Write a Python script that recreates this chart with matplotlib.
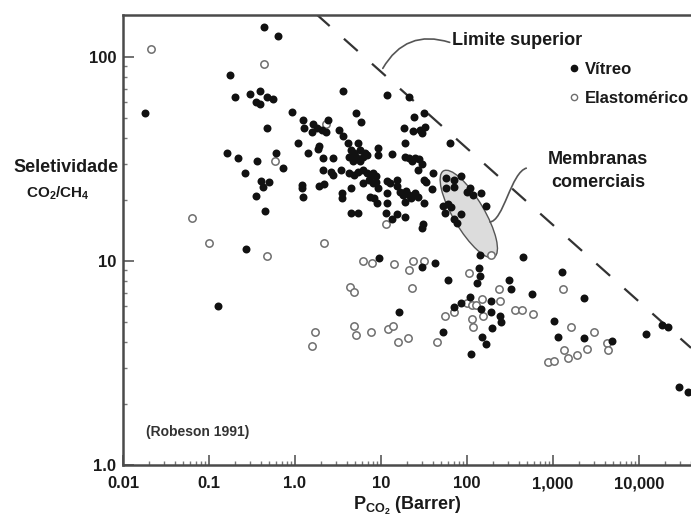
import numpy as np
import matplotlib
matplotlib.use("Agg")
import matplotlib.pyplot as plt
from matplotlib.patches import Ellipse, PathPatch
from matplotlib.path import Path
from matplotlib.lines import Line2D
from matplotlib.ticker import NullFormatter, LogLocator
from matplotlib.transforms import ScaledTranslation

plt.rcParams["font.family"] = ["Liberation Sans", "DejaVu Sans"]
plt.rcParams["mathtext.fontset"] = "custom"
plt.rcParams["mathtext.rm"] = "Liberation Sans"
plt.rcParams["mathtext.bf"] = "Liberation Sans:bold"

# Vitreous (glassy) polymers: permeability P_CO2 (Barrer) and CO2/CH4 selectivity
vitreo_p = [
    0.018, 0.44, 0.63, 0.175, 0.20, 0.30, 0.39, 0.35, 0.39, 0.47, 0.55, 0.47,
    0.16, 0.22, 0.36, 0.60, 0.72, 0.26, 0.40, 0.50, 0.43, 0.35, 0.45, 0.27, 0.127,
    3.6, 11.7, 0.92, 5.1, 5.8, 1.24, 1.27, 1.62, 1.80, 1.58, 2.06, 2.3, 2.4, 3.25,
    3.6, 1.08, 1.42, 1.85, 1.9, 4.1, 5.4, 4.5, 4.9, 5.7, 6.5, 6.9, 9.2, 9.2, 13.4,
    2.1, 2.75, 4.3, 4.7, 5.1, 5.7, 6.2, 2.1, 2.6, 2.75, 3.4, 4.3, 4.9, 5.4, 6.2,
    6.9, 7.6, 8.0, 8.8, 7.2, 8.0, 8.8, 11.7, 12.6, 15.4, 19, 21, 22.8, 24.9, 28,
    19, 18.5, 23.6, 28.5, 32.5, 24, 31.5, 21, 27, 31.5, 63, 29.9,
    30, 40, 39, 31.5, 31, 30, 57, 71, 71, 85, 57, 100, 108, 116, 145, 166, 53,
    60, 66, 55, 71, 76, 86, 141, 448, 42, 137, 141, 60, 308,
    1.2, 1.2, 1.9, 2.2, 1.24, 3.5, 3.5, 4.5, 7.5, 8.4, 9.1, 11.7, 11.7, 15.4,
    16.8, 18.2, 19.6, 21, 22.6, 19, 24.9, 27, 33, 4.5, 5.4, 11.4, 15.4, 13.4, 19,
    9.5, 30, 6.2, 9.2,
    108, 85, 71, 16.2, 52, 110, 132, 325, 1270, 2300, 570, 1030, 1130, 2300,
    4800, 12000, 18500, 21700, 29000, 37000, 145, 150, 190, 195, 245, 250, 165, 190,
]
vitreo_sel = [
    53, 140, 127, 82, 64, 66, 68, 60, 59, 64, 62, 45,
    34, 32, 31, 34, 28.6, 27, 24.7, 24.4, 23, 20.8, 17.6, 11.5, 6.0,
    68, 65, 54, 53, 48, 49, 45, 47, 45, 43, 44, 43, 49, 44,
    41, 38, 34, 35.4, 36.6, 38, 38, 35, 34, 35, 34, 33, 36, 33, 33.5,
    32, 32, 32.5, 31, 32.5, 31, 32.5, 28, 27.3, 26.5, 28, 27, 26.5, 27.3, 28,
    27, 26, 27, 26, 25, 24, 24.4, 24.7, 24, 25, 32.5, 32, 31, 32, 31.5,
    38, 45, 43.5, 44, 45.5, 51, 53, 64, 28, 25, 38, 42.4,
    30, 27, 22.5, 19.2, 15.2, 14.5, 25.5, 25, 23, 26, 22.9, 21.8, 22.8, 21, 21.5, 18.6, 18.6,
    19, 18.4, 17.2, 16, 15.4, 17, 10.7, 10.5, 9.8, 9.2, 8.4, 8.1, 8.1,
    23.6, 22.8, 23.3, 23.8, 20.6, 21.5, 20.4, 22.8, 20.6, 20.4, 19.2, 19.2, 21.5, 23.2,
    21.8, 21, 22, 21, 20.4, 19.4, 21.5, 20.6, 24.4, 17.2, 17.2, 17.2, 17, 16, 16.4,
    10.3, 9.3, 24, 22.8,
    6.7, 6.2, 5.95, 5.6, 4.5, 3.5, 7.8, 7.3, 8.8, 6.6, 6.9, 5.1, 4.24, 4.2,
    4.05, 4.4, 4.85, 4.75, 2.41, 2.28, 5.8, 4.24, 5.6, 4.7, 5.4, 5.05, 3.9, 6.4,
]

# Elastomeric (rubbery) polymers
elasto_p = [
    0.021, 0.44, 0.59, 0.063, 0.10, 0.47, 1.71, 1.58, 2.3, 11.4, 2.2, 6.2, 7.9,
    14, 23.5, 31.5, 21.4, 4.4, 4.8, 23, 190, 105, 100, 113, 128, 55, 71, 113, 116,
    4.8, 5.1, 7.6, 12.1, 13.9, 15.8, 20.5, 44.5, 234, 245, 1300, 360, 440, 590,
    1620, 870, 1030, 1360, 1500, 1920, 2500, 3000, 4300, 4400, 150, 152,
]
elasto_sel = [
    110, 92, 31, 16.3, 12.3, 10.6, 4.5, 3.83, 47, 15.2, 12.3, 10, 9.8,
    9.7, 10, 10, 9.0, 7.5, 7.05, 7.4, 10.7, 8.7, 6.2, 6.1, 6.1, 5.4, 5.6, 5.2, 4.75,
    4.8, 4.34, 4.5, 4.65, 4.8, 4.0, 4.2, 4.0, 7.3, 6.4, 7.3, 5.75, 5.75, 5.5,
    4.75, 3.2, 3.23, 3.66, 3.35, 3.45, 3.7, 4.5, 3.96, 3.66, 6.5, 5.4,
]

# Upper bound (Robeson 1991), read at the two edges of the plot
bound_p = [1.75, 40300]
bound_sel = [163, 3.75]

x_ticks = [0.01, 0.1, 1, 10, 100, 1000, 10000]
x_labels = ["0.01", "0.1", "1.0", "10", "100", "1,000", "10,000"]
y_ticks = [1, 10, 100]
y_labels = ["1.0", "10", "100"]

TXT = "#1a1a1a"
SPINE = "#4a4a4a"

fig = plt.figure(figsize=(6.91, 5.18), dpi=100)
ax = fig.add_axes([0.178, 0.1023, 0.822, 0.8687])
ax.set_xscale("log")
ax.set_yscale("log")
ax.set_xlim(0.01, 40300)
ax.set_ylim(1.0, 160.7)

# commercial membranes region (ellipse sized in inches, centred in data)
ell = Ellipse((0, 0), width=1.0, height=0.31, angle=-59.5,
              facecolor="#dcdcdc", edgecolor="#555555", linewidth=1.0,
              transform=fig.dpi_scale_trans + ScaledTranslation(105, 17, ax.transData),
              zorder=1)
ax.add_patch(ell)

ax.plot(bound_p, bound_sel, color="#333333", linewidth=1.6,
        dashes=(8.3, 8.6), zorder=2)

ax.scatter(elasto_p, elasto_sel, s=28, facecolors="white", edgecolors="#6e6e6e",
           linewidths=1.1, zorder=3)
ax.scatter(vitreo_p, vitreo_sel, s=33, color="#111111", linewidths=0, zorder=4)

# ticks and spines
ax.set_xticks(x_ticks)
ax.set_xticklabels(x_labels, fontweight="bold", fontsize=12, color=TXT)
ax.set_yticks(y_ticks)
ax.set_yticklabels(y_labels, fontweight="bold", fontsize=12, color=TXT)
ax.xaxis.set_minor_locator(LogLocator(base=10, subs=np.arange(2, 10)))
ax.yaxis.set_minor_locator(LogLocator(base=10, subs=np.arange(2, 10)))
ax.xaxis.set_minor_formatter(NullFormatter())
ax.yaxis.set_minor_formatter(NullFormatter())
ax.tick_params(which="major", direction="in", length=8, width=1.3, color="#666666", pad=5)
ax.tick_params(which="minor", direction="in", length=3, width=1.0, color="#777777")
ax.tick_params(axis="x", which="major", length=7, pad=8)
for side in ["top", "bottom", "left"]:
    ax.spines[side].set_color(SPINE)
    ax.spines[side].set_linewidth(1.8)
ax.spines["right"].set_visible(False)

ax.set_xlabel(r"$\mathbf{P_{CO_2}}$ (Barrer)", fontsize=13, fontweight="bold",
              color=TXT, labelpad=3)
fig.text(0.0955, 0.676, "Seletividade", fontsize=13, fontweight="bold", color=TXT,
         ha="center", va="center")
fig.text(0.083, 0.627, r"$\mathbf{CO_2/CH_4}$", fontsize=11, color=TXT,
         ha="center", va="center")

ax.text(0.0185, 1.45, "(Robeson 1991)", fontsize=10, fontweight="bold",
        color="#333333", ha="left", va="center")

# upper bound annotation
ax.text(67, 121, "Limite superior", fontsize=13, fontweight="bold", color=TXT,
        ha="left", va="center")
ax.annotate("", xy=(10.5, 88), xytext=(63, 118),
            arrowprops=dict(arrowstyle="-", color="#555555", linewidth=1.2,
                            connectionstyle="arc3,rad=0.4", shrinkA=0, shrinkB=0))

# commercial membranes annotation
ax.text(3340, 27.6, "Membranas\ncomerciais", fontsize=13, fontweight="bold",
        color=TXT, ha="center", va="center", linespacing=1.4)
verts = [(0.711, 0.660), (0.683, 0.652), (0.670, 0.540), (0.645, 0.540)]
codes = [Path.MOVETO, Path.CURVE4, Path.CURVE4, Path.CURVE4]
ax.add_patch(PathPatch(Path(verts, codes), facecolor="none", edgecolor="#555555",
                       linewidth=1.2, transform=ax.transAxes, zorder=2))

handles = [
    Line2D([], [], linestyle="none", marker="o", markersize=4.5,
           markerfacecolor="#111111", markeredgecolor="#111111"),
    Line2D([], [], linestyle="none", marker="o", markersize=4.5,
           markerfacecolor="white", markeredgecolor="#6e6e6e", markeredgewidth=1.0),
]
leg = ax.legend(handles, ["Vítreo", "Elastomérico"], loc="upper left",
                bbox_to_anchor=(0.77, 0.915), frameon=False, handlelength=0.6,
                handletextpad=0.4, labelspacing=0.85, borderpad=0.0,
                prop={"weight": "bold", "size": 12})
for t in leg.get_texts():
    t.set_color(TXT)

fig.savefig("out.png", dpi=100, facecolor="white")
